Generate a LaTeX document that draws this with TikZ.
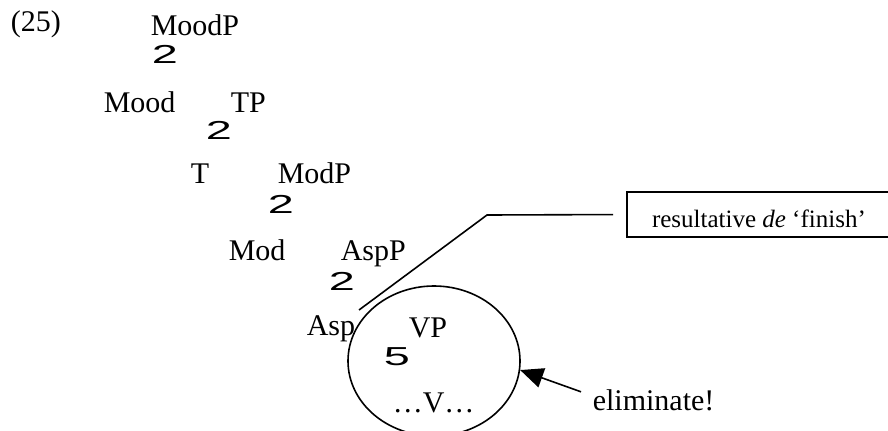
\documentclass[tikz,border=0pt]{standalone}
\usepackage{fontspec}
\setmainfont{Liberation Serif}
\newfontfamily\arbfont{Liberation Sans}
\usetikzlibrary{positioning, shapes, arrows.meta}

% wide branching glyphs of the tree
\newcommand{\arb}[1]{{\arbfont\fontsize{13pt}{13pt}\selectfont\scalebox{1.8}[1]{#1}}}

\tikzset{
  lab/.style={anchor=base west, inner sep=0pt, font=\fontsize{15pt}{18pt}\selectfont},
  arb/.style={anchor=base west, inner sep=0pt},
  note/.style={draw, anchor=base west, inner xsep=12.5pt, inner ysep=0pt, outer sep=0pt,
    text height=17.5pt, text depth=5pt, font=\fontsize{12.5pt}{15pt}\selectfont},
}

\begin{document}
\begin{tikzpicture}[x=0.5pt, y=0.5pt, line width=0.8pt]
        \useasboundingbox (0,0) rectangle (888,430);

        \node[lab] (ex) at (10,399) {(25)};

        \node[lab] (moodp) at (150,395) {MoodP};
        \node[arb] (br1) at (151,367) {\arb{2}};
        \node[lab] (mood) at (103,318) {Mood};
        \node[lab] (tp) at (230,318) {TP};
        \node[arb] (br2) at (205,291) {\arb{2}};
        \node[lab] (t) at (190,247) {T};
        \node[lab] (modp) at (277,247) {ModP};
        \node[arb] (br3) at (267,217) {\arb{2}};
        \node[lab] (mod) at (228,170) {Mod};
        \node[lab] (aspp) at (340,170) {AspP};
        \node[arb] (br4) at (328,140) {\arb{2}};
        \node[lab] (asp) at (306,95) {Asp};
        \node[lab] (vp) at (408,93) {VP};
        \node[arb] (tri) at (383,65) {\arb{5}};
        \node[lab] (v) at (392,18) {…V…};

        \node[draw, ellipse, minimum width=86pt, minimum height=75pt, inner sep=0pt] (ring) at (434,69) {};

        \node[note] (note) at (627,203) {resultative \textit{de} ‘finish’};
        \coordinate (tick) at (359,120);
        \coordinate (bend) at (487,215);
        \draw[shorten >=7pt] (tick) -- (bend) -- (note.west);

        \node[lab] (elim) at (592,20) {eliminate!};
        \draw[-{Triangle[length=11.5pt,width=10pt]}] ([shift={(-11,8)}]elim.west) -- (ring.-6);

    \end{tikzpicture}
\end{document}
